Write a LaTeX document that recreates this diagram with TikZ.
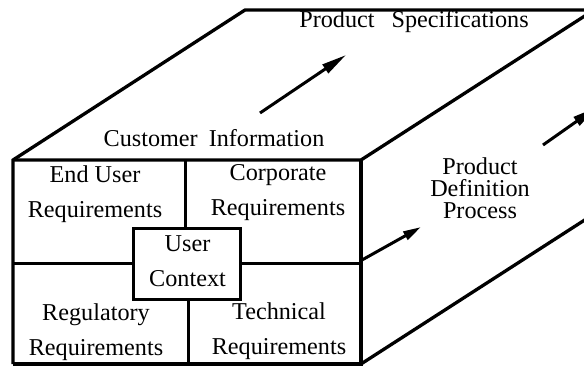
\documentclass[tikz,border=0pt]{standalone}
\usepackage{fontspec}
\setmainfont{Liberation Serif}
\usetikzlibrary{arrows.meta}
\begin{document}
\begin{tikzpicture}[x=1pt,y=-1pt,
  edge/.style={line width=3.3pt,line join=miter},
  inner/.style={line width=3pt},
  lbl/.style={align=center,inner sep=0pt,font=\fontsize{24.2}{35}\selectfont},
  lbltight/.style={align=center,inner sep=0pt,font=\fontsize{24.2}{22}\selectfont},
  flow/.style={line width=3pt,-{Triangle[length=25pt,width=10pt]}},
  flowsmall/.style={line width=3pt,-{Triangle[length=18pt,width=9pt]}}]
\useasboundingbox (0,0) rectangle (584,367);
\clip (0,0) rectangle (584,367);
\fill[white] (0,0) rectangle (584,367);
% corners
\coordinate (FTL) at (13,160);
\coordinate (FTR) at (361,160);
\coordinate (FBR) at (361,364);
\coordinate (FBL) at (13,364);
\coordinate (BTL) at (245,10);
\coordinate (BTR) at (594,10);
\coordinate (BBR) at (594,214);
% box edges
\draw[edge] (FBL) -- (FTL) -- (BTL) -- (BTR);
\draw[edge] (FTL) -- (FTR) -- (BTR);
\draw[edge] (FBL) -- (FBR) -- (FTR);
\draw[edge] (FBR) -- (BBR);
% inner lines of front face
\coordinate (ML) at (13,263);
\coordinate (MR) at (361,263);
\draw[inner] (ML) -- (MR);
\node[draw,line width=3pt,fill=white,minimum width=107pt,minimum height=71pt,inner sep=0pt] (uc) at (186.5,263.5) {};
\coordinate (VT) at (185,160);
\coordinate (VB) at (188,364);
\draw[inner] (VT) -- (VT |- uc.north);
\draw[inner] (VB |- uc.south) -- (VB);
% texts
\node[lbl] (uct) at (187.5,261) {User\\Context};
\node[lbl] (eu) at (95,194) {End User\\Requirements};
\node[lbl] (co) at (278,193) {Corporate\\Requirements};
\node[lbl] (re) at (96,332) {Regulatory\\Requirements};
\node[lbl] (te) at (279,331) {Technical\\Requirements};
\node[lbl] (ci) at (214,138) {Customer\hspace{11pt}Information};
\node[lbl] (ps) at (414,22) {Product\hspace{17pt}Specifications};
\node[lbltight] (pdp) at (480,188) {Product\\Definition\\Process};
% arrows
\coordinate (a1s) at (260,113);
\coordinate (a1e) at (346,55);
\draw[flow] (a1s) -- (a1e);
\coordinate (a2s) at (362,260);
\coordinate (a2e) at (421,227);
\draw[flowsmall] (a2s) -- (a2e);
\coordinate (a3s) at (543,145);
\coordinate (a3e) at (597,107);
\draw[flow] (a3s) -- (a3e);
\end{tikzpicture}
\end{document}
